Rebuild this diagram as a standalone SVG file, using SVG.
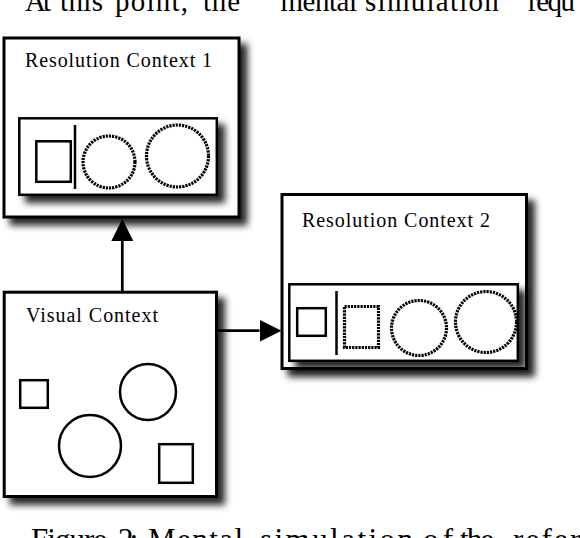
<svg xmlns="http://www.w3.org/2000/svg" width="580" height="538" viewBox="0 0 580 538">
<defs>
<style>
.page{font-family:"Liberation Serif","Times New Roman",serif;fill:#000}
.lbl{font-family:"Liberation Serif","Times New Roman",serif;font-size:20px;fill:#000}
.box{fill:#fff;stroke:#000;stroke-width:3}
.inner{fill:#fff;stroke:#000;stroke-width:2.5}
.shape{fill:none;stroke:#000;stroke-width:2.5}
.dot{fill:none;stroke:#000;stroke-width:3.2;stroke-dasharray:2.2 1}
.conn{fill:none;stroke:#000;stroke-width:2.7}
</style>
<filter id="sh" x="-10%" y="-10%" width="130%" height="130%">
<feGaussianBlur in="SourceAlpha" stdDeviation="3.5"/>
<feOffset dx="7" dy="7"/>
<feComponentTransfer><feFuncA type="linear" slope="0.85"/></feComponentTransfer>
<feMerge><feMergeNode/><feMergeNode in="SourceGraphic"/></feMerge>
</filter>
<marker id="ah" markerUnits="userSpaceOnUse" markerWidth="23" markerHeight="23" refX="0" refY="11" orient="auto" viewBox="0 0 23 22">
<path d="M0,0 L22,11 L0,22 z" fill="#000"/>
</marker>
</defs>
<rect width="580" height="538" fill="#fff"/>
<text class="page" font-size="29" y="11"><tspan x="25" textLength="26">At</tspan><tspan x="60" textLength="43">this</tspan><tspan x="115" textLength="73">point,</tspan><tspan x="203" textLength="37">the</tspan><tspan x="268" textLength="89">“mental</tspan><tspan x="365" textLength="148">simulation”</tspan><tspan x="528" textLength="47">requ</tspan></text>
<text class="page" font-size="31" y="550"><tspan x="31" textLength="76">Figure</tspan><tspan x="118" textLength="20">2:</tspan><tspan x="148" textLength="95">Mental</tspan><tspan x="260" textLength="153">simulation</tspan><tspan x="423" textLength="30">of</tspan><tspan x="460" textLength="34">the</tspan><tspan x="513" textLength="133">reference</tspan></text>
<g id="connectors">
<line class="conn" x1="122.3" y1="291" x2="122.3" y2="241" marker-end="url(#ah)"/>
<line class="conn" x1="217" y1="330.7" x2="259.5" y2="330.7" marker-end="url(#ah)"/>
</g>
<g id="resolution-context-1">
<rect class="box" x="4" y="38" width="235" height="179" filter="url(#sh)"/>
<text class="lbl" x="25" y="66.7" textLength="187" lengthAdjust="spacing">Resolution Context 1</text>
<rect class="inner" x="19.3" y="118.3" width="197.5" height="76.5" filter="url(#sh)"/>
<rect class="shape" x="36.3" y="141.3" width="34.5" height="40.5"/>
<line class="shape" x1="75" y1="125" x2="75" y2="189"/>
<circle class="dot" cx="109" cy="162" r="26"/>
<circle class="dot" cx="177.5" cy="156" r="31"/>
</g>
<g id="resolution-context-2">
<rect class="box" x="282" y="194.5" width="244.5" height="174" filter="url(#sh)"/>
<text class="lbl" x="302" y="226.7" textLength="188" lengthAdjust="spacing">Resolution Context 2</text>
<rect class="inner" x="289.3" y="284.3" width="228.5" height="76.5" filter="url(#sh)"/>
<rect class="shape" x="297.2" y="308.2" width="28.6" height="27.6"/>
<line class="shape" x1="336.5" y1="291" x2="336.5" y2="355"/>
<rect class="dot" x="344.5" y="306.5" width="34" height="41"/>
<circle class="dot" cx="419" cy="328" r="27.5"/>
<circle class="dot" cx="486" cy="322" r="30.5"/>
</g>
<g id="visual-context">
<rect class="box" x="4.2" y="292.2" width="212.3" height="204.3" filter="url(#sh)"/>
<text class="lbl" x="26" y="321.7" textLength="132" lengthAdjust="spacing">Visual Context</text>
<rect class="shape" x="20.2" y="380.2" width="27.6" height="27.6"/>
<circle class="shape" cx="148" cy="392" r="28"/>
<circle class="shape" cx="90" cy="446" r="31"/>
<rect class="shape" x="159.2" y="444.2" width="33.6" height="38.6"/>
</g>
</svg>
